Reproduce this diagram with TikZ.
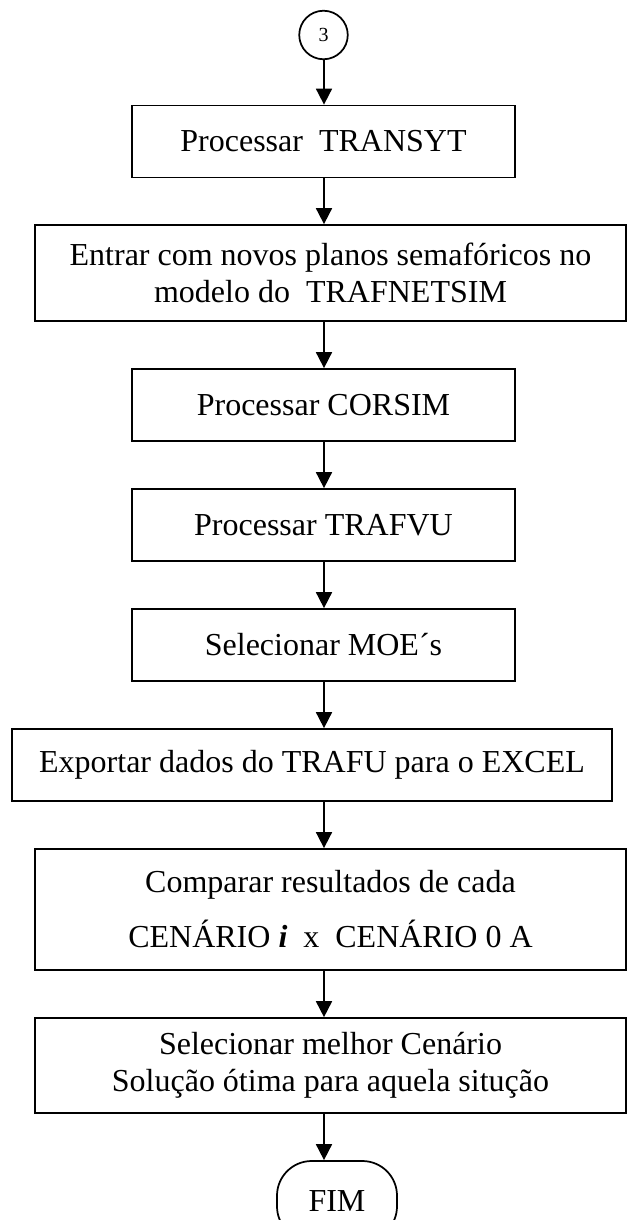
\documentclass[tikz,border=0pt]{standalone}
\usepackage{fontspec}
\setmainfont{Liberation Serif}
\usetikzlibrary{arrows.meta}
\begin{document}
\begin{tikzpicture}[x=0.375pt, y=-0.375pt, line width=0.65pt,
    box/.style={draw, minimum width=143.6pt, minimum height=27pt, inner sep=0pt, align=center, font=\fontsize{12}{13.9}\selectfont},
    wide/.style={box, minimum width=221.4pt},
    term/.style={draw, rounded corners=13pt, minimum width=45pt, minimum height=30pt, font=\fontsize{12}{13.9}\selectfont},
    conn/.style={draw, circle, minimum size=18.2pt, inner sep=0pt, font=\fontsize{7.5}{9}\selectfont},
    arr/.style={-{Triangle[length=6pt, width=6pt]}}]

    \useasboundingbox (0,0) rectangle (627,1220);
    \clip (0,0) rectangle (627,1220);

    \coordinate (spine) at (324,0);

    \node[conn] (c3) at (323.5,35) {3};
    \node[box] (transyt) at (323.5,141.5) {Processar\ \ TRANSYT};
    \node[wide, minimum height=36pt] (planos) at (330.5,273) {Entrar com novos planos semafóricos no\\modelo do\ \ TRAFNETSIM};
    \node[box] (corsim) at (323.5,405) {Processar CORSIM};
    \node[box] (trafvu) at (323.5,525) {Processar TRAFVU};
    \node[box] (moe) at (323.5,645) {Selecionar MOE´s};
    \node[wide, minimum width=225pt] (excel) at (312,765) {Exportar dados do TRAFU para o EXCEL};
    \node[wide, minimum height=45.4pt] (comparar) at (330.5,909.5) {Comparar resultados de cada\\[6.7pt]CENÁRIO \textbf{\textit{i}}\ \ x\ \ CENÁRIO 0 A};
    \node[wide, minimum height=35.6pt] (melhor) at (330.5,1065.5) {Selecionar melhor Cenário\\Solução ótima para aquela situção};
    \node[term] (fim) at (337,1201) {FIM};

    % fluxo
    \draw[arr] (c3.south -| spine) -- (transyt.north -| spine);
    \draw[arr] (transyt.south -| spine) -- (planos.north -| spine);
    \draw[arr] (planos.south -| spine) -- (corsim.north -| spine);
    \draw[arr] (corsim.south -| spine) -- (trafvu.north -| spine);
    \draw[arr] (trafvu.south -| spine) -- (moe.north -| spine);
    \draw[arr] (moe.south -| spine) -- (excel.north -| spine);
    \draw[arr] (excel.south -| spine) -- (comparar.north -| spine);
    \draw[arr] (comparar.south -| spine) -- (melhor.north -| spine);
    \draw[arr] (melhor.south -| spine) -- (fim.north -| spine);
\end{tikzpicture}
\end{document}
